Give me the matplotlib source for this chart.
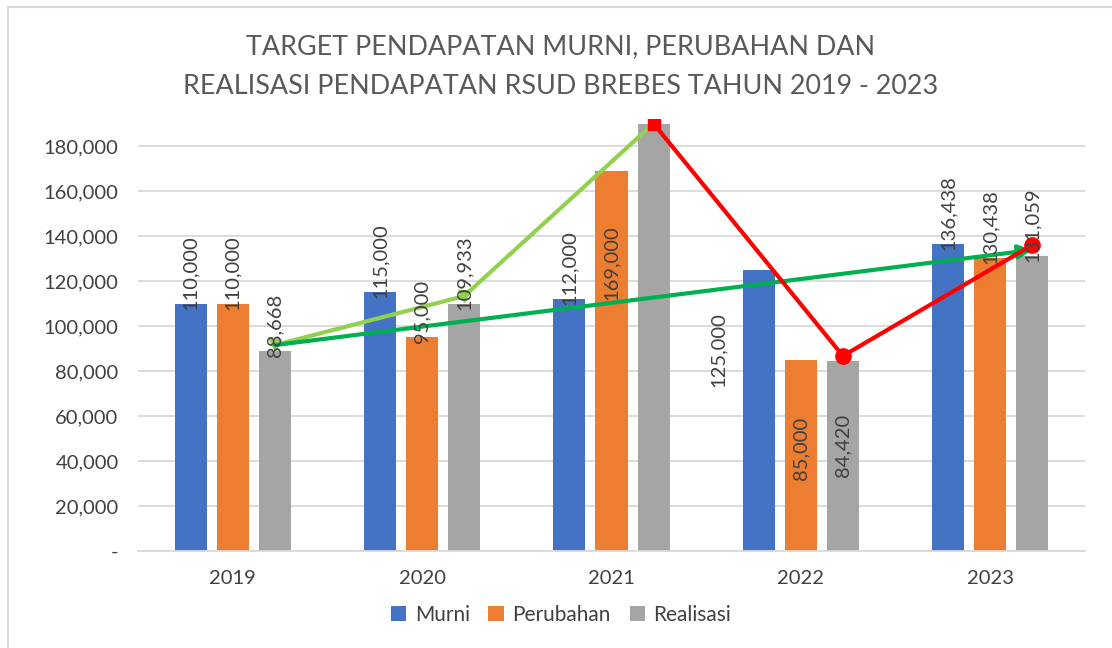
import matplotlib
matplotlib.use("Agg")
import matplotlib.pyplot as plt
from matplotlib.lines import Line2D
from matplotlib.ticker import FuncFormatter, MultipleLocator

plt.rcParams['font.family'] = ['Lato', 'DejaVu Sans']

# ---- data ----
years = ["2019", "2020", "2021", "2022", "2023"]
murni = [110000, 115000, 112000, 125000, 136438]
perubahan = [110000, 95000, 169000, 85000, 130438]
realisasi = [88668, 109933, 190000, 84420, 131059]
show_label_realisasi = [True, True, False, True, True]
series_names = ["Murni", "Perubahan", "Realisasi"]

# annotation lines (category index of Realisasi bar, value)
light_green_x = [0, 1, 2]
light_green_y = [91500, 113300, 190000]
dark_green_x = [0, 4]
dark_green_y = [91500, 133800]
red_x = [2, 3, 4]
red_y = [190000, 86700, 136000]

# ---- styling ----
colors = ["#4472C4", "#ED7D31", "#A5A5A5"]
text_col = "#404040"
title_col = "#595959"
grid_col = "#D9D9D9"
W, H = 1112, 648
fig = plt.figure(figsize=(W / 100, H / 100), dpi=100)
ax = fig.add_axes([138 / W, (H - 551) / H, (1085 - 138) / W, (551 - 119) / H])

pitch = 0.2218
bw = 0.169
series = [murni, perubahan, realisasi]
x = list(range(len(years)))
for k, (vals, c) in enumerate(zip(series, colors)):
    xs = [i + (k - 1) * pitch for i in x]
    ax.bar(xs, vals, width=bw, color=c, label=series_names[k], zorder=2)

# data labels
# special label placements (value-axis anchor of label bottom, x offset in px)
label_override = {(0, 3): (72900, -41), (1, 3): (31600, 0), (2, 3): (32900, 0),
                  (1, 2): (111500, 0)}
for k, vals in enumerate(series):
    for i, v in enumerate(vals):
        if k == 2 and not show_label_realisasi[i]:
            continue
        xc = i + (k - 1) * pitch
        if (k, i) in label_override:
            yv, dx = label_override[(k, i)]
            ax.annotate(f"{v:,}", (xc, yv), xytext=(dx, 0), textcoords="offset pixels",
                        rotation=90, ha="center", va="bottom", fontsize=14.5,
                        color=text_col, zorder=5)
        else:
            ax.annotate(f"{v:,}", (xc, v), xytext=(0, -6), textcoords="offset pixels",
                        rotation=90, ha="center", va="bottom", fontsize=14.5,
                        color=text_col, zorder=5)

# annotation lines
def rx(lst):
    return [i + pitch for i in lst]

ax.plot(rx(light_green_x), light_green_y, color="#92D050", lw=3, zorder=4,
        solid_capstyle="round")
ax.plot(rx(light_green_x)[:2], light_green_y[:2], ls="none", marker="v",
        ms=8, color="#92D050", zorder=4)
ax.annotate("", xy=(rx(dark_green_x)[1], dark_green_y[1]),
            xytext=(rx(dark_green_x)[0], dark_green_y[0]),
            arrowprops=dict(arrowstyle="-|>,head_length=0.8,head_width=0.4",
                            color="#00B050", lw=3, shrinkA=0, shrinkB=0),
            zorder=4)
ax.plot(rx(red_x), red_y, color="#FF0000", lw=3, zorder=4)
ax.plot(rx(red_x)[:1], red_y[:1], ls="none", marker="s", ms=9, color="#FF0000", zorder=4)
ax.plot(rx(red_x)[1:], red_y[1:], ls="none", marker="o", ms=11, color="#FF0000", zorder=4)

# axes
ax.set_xlim(-0.5, 4.5)
ax.set_ylim(0, 192000)
ax.yaxis.set_major_formatter(FuncFormatter(lambda v, p: "-" if v == 0 else f"{int(v):,}"))
ax.set_yticks([t for t in range(0, 180001, 20000)])
ax.set_xticks(x)
ax.set_xticklabels(years)
ax.tick_params(axis="both", length=0, labelsize=14.5, colors=text_col)
ax.tick_params(axis="y", pad=14)
ax.tick_params(axis="x", pad=14)
for s in ["top", "right", "left"]:
    ax.spines[s].set_visible(False)
ax.spines["bottom"].set_color(grid_col)
ax.spines["bottom"].set_linewidth(1.3)
ax.grid(axis="y", color=grid_col, lw=1.3, zorder=0)
ax.set_axisbelow(True)

# title
fig.text(561 / W, 1 - 47 / H, "TARGET PENDAPATAN MURNI, PERUBAHAN DAN",
         ha="center", va="center", fontsize=19.4, color=title_col)
fig.text(561 / W, 1 - 86 / H, "REALISASI PENDAPATAN RSUD BREBES TAHUN 2019 - 2023",
         ha="center", va="center", fontsize=19.4, color=title_col)

# legend
leg = fig.legend(loc="center", bbox_to_anchor=(561 / W, 1 - 615 / H), ncol=3,
                 frameon=False, fontsize=15, handlelength=0.75, handleheight=0.75,
                 handletextpad=0.4, columnspacing=0.9)
for t in leg.get_texts():
    t.set_color(text_col)

# outer chart frame
fig.add_artist(Line2D([8 / W, 1], [1 - 7 / H, 1 - 7 / H], color=grid_col, lw=1.5,
                      transform=fig.transFigure))
fig.add_artist(Line2D([8 / W, 8 / W], [0, 1 - 7 / H], color=grid_col, lw=1.5,
                      transform=fig.transFigure))

fig.savefig("out.png", dpi=100)
